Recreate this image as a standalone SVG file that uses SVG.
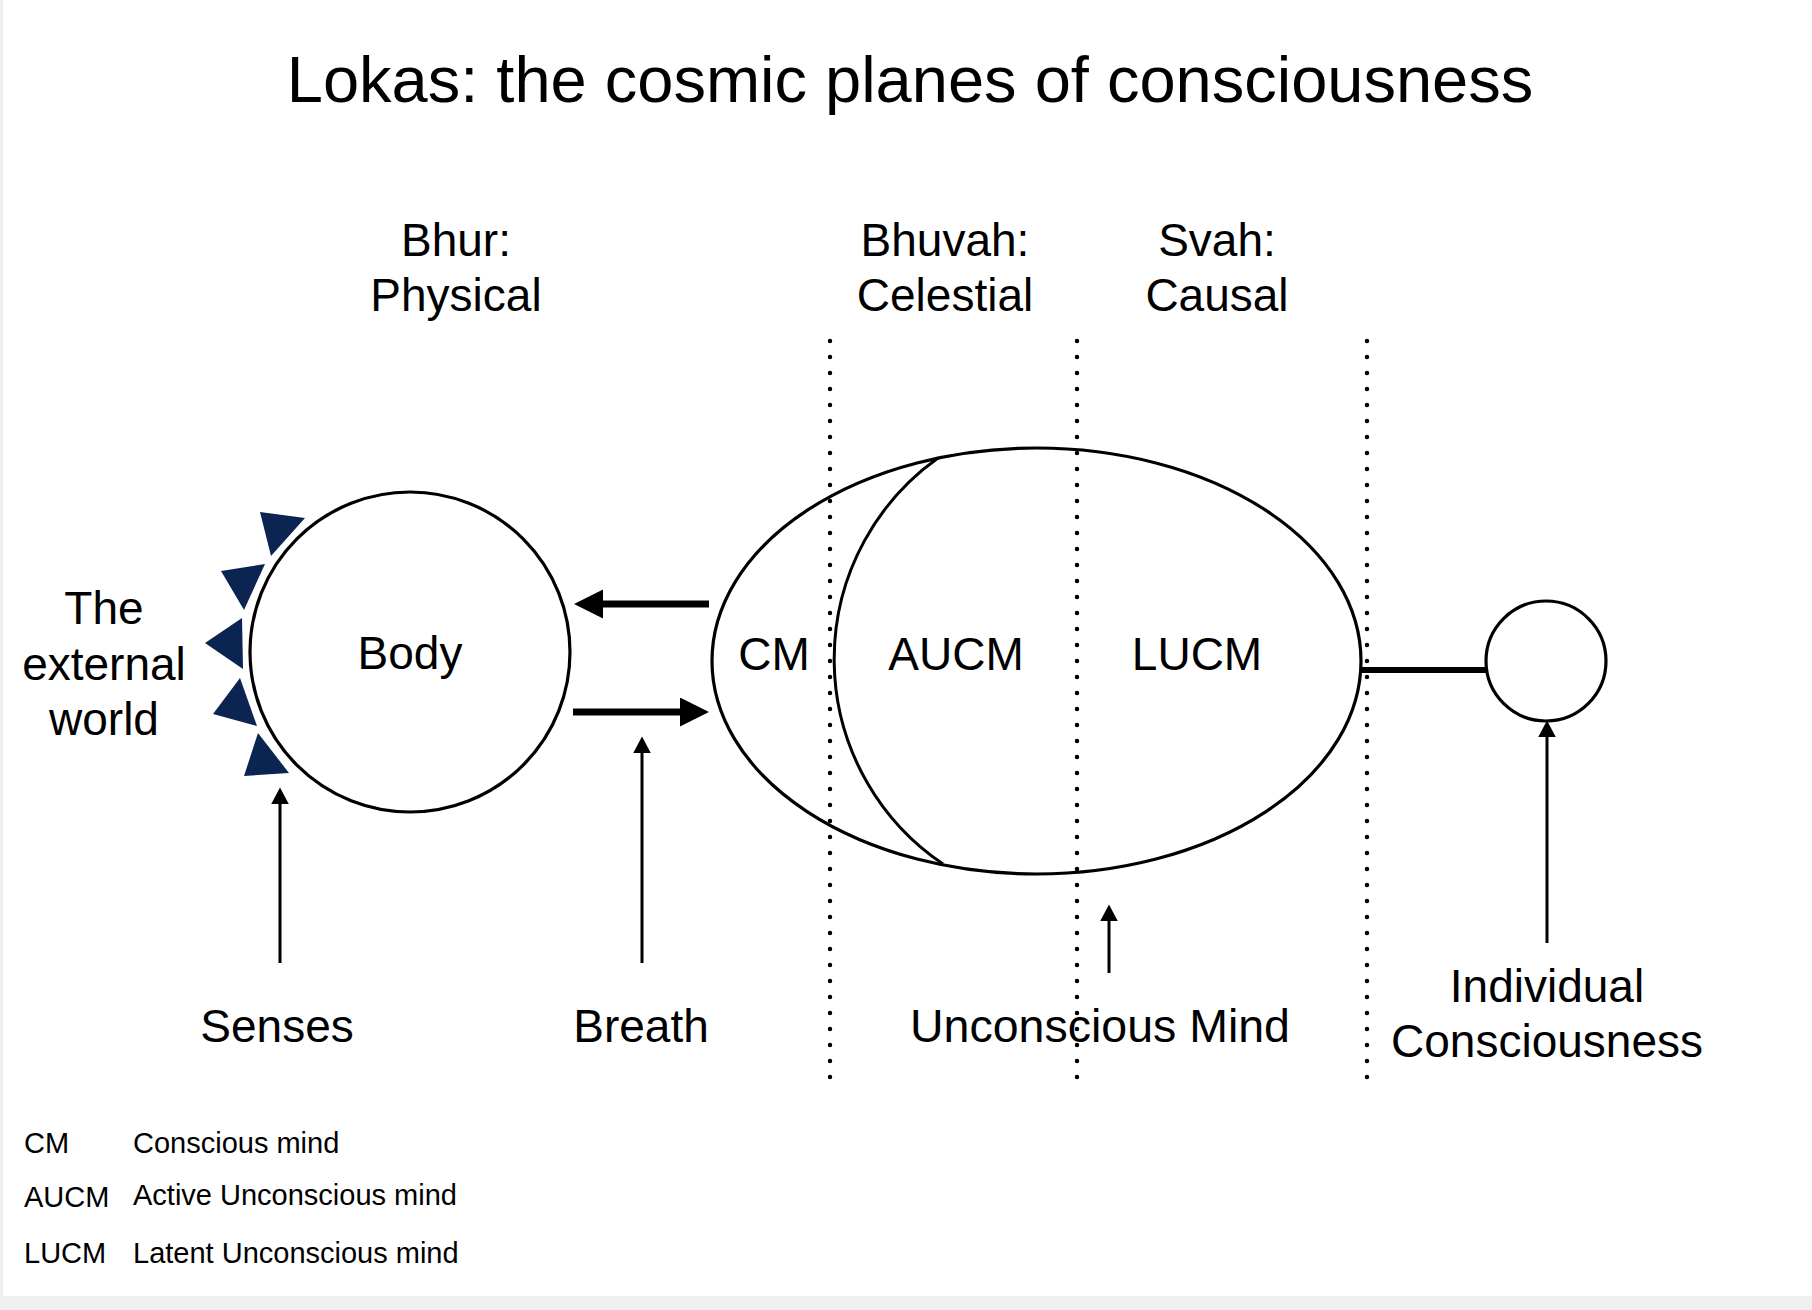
<svg xmlns="http://www.w3.org/2000/svg" width="1812" height="1310" viewBox="0 0 1812 1310">
  <style>
    text { font-family: "Liberation Sans", Arial, Helvetica, sans-serif; fill: #000; }
    .big { font-size: 46px; text-anchor: middle; }
    .title { font-size: 65px; text-anchor: middle; }
    .legend { font-size: 29px; }
    .outline { fill: #fff; stroke: #000; stroke-width: 3.2; }
    .thin { stroke: #000; stroke-width: 3; fill: none; }
    .thick { stroke: #000; stroke-width: 7; fill: none; }
    .dots { stroke: #000; stroke-width: 4.5; stroke-linecap: round; stroke-dasharray: 0 16; fill: none; }
    .ray { fill: #0c2452; }
  </style>
  <defs>
    <marker id="headThin" markerUnits="userSpaceOnUse" markerWidth="17" markerHeight="18" refX="0" refY="8.75" orient="auto">
      <path d="M0,0 L16.5,8.75 L0,17.5 z" fill="#000"/>
    </marker>
    <marker id="headThick" markerUnits="userSpaceOnUse" markerWidth="30" markerHeight="30" refX="0" refY="14.5" orient="auto">
      <path d="M0,0 L29,14.5 L0,29 z" fill="#000"/>
    </marker>
  </defs>

  <rect x="0" y="0" width="1812" height="1310" fill="#efefef"/>
  <rect x="3" y="0" width="1809" height="1296" fill="#fff"/>

  <g id="title">
    <text class="title" x="910" y="102">Lokas: the cosmic planes of consciousness</text>
  </g>

  <g id="plane-labels">
    <text class="big" x="456" y="256">Bhur:</text>
    <text class="big" x="456" y="311">Physical</text>
    <text class="big" x="945" y="256">Bhuvah:</text>
    <text class="big" x="945" y="311">Celestial</text>
    <text class="big" x="1217" y="256">Svah:</text>
    <text class="big" x="1217" y="311">Causal</text>
  </g>

  <g id="external-world">
    <text class="big" x="104" y="624">The</text>
    <text class="big" x="104" y="680">external</text>
    <text class="big" x="104" y="735">world</text>
    <polygon class="ray" points="260,512 305,518 271,556"/>
    <polygon class="ray" points="221,571 265,564 244,610"/>
    <polygon class="ray" points="205,643 242,618 243,669"/>
    <polygon class="ray" points="213,714 240,678 257,726"/>
    <polygon class="ray" points="244,776 258,733 289,773"/>
  </g>

  <g id="body">
    <circle class="outline" cx="410" cy="652" r="160"/>
    <text class="big" x="410" y="669">Body</text>
  </g>

  <g id="mind">
    <ellipse class="outline" cx="1036.5" cy="661" rx="324.5" ry="213"/>
    <path class="thin" d="M938,458 A247,247 0 0 0 943,864"/>
    <text class="big" x="774" y="670">CM</text>
    <text class="big" x="956" y="670">AUCM</text>
    <text class="big" x="1197" y="670">LUCM</text>
  </g>

  <g id="individual-consciousness">
    <circle class="outline" cx="1546" cy="661" r="60"/>
  </g>

  <g id="dividers">
    <line class="dots" x1="830" y1="341" x2="830" y2="1078"/>
    <line class="dots" x1="1077" y1="341" x2="1077" y2="1078"/>
    <line class="dots" x1="1367" y1="341" x2="1367" y2="1078"/>
  </g>

  <g id="connectors">
    <line class="thick" x1="709" y1="604" x2="603" y2="604" marker-end="url(#headThick)"/>
    <line class="thick" x1="573" y1="712" x2="680" y2="712" marker-end="url(#headThick)"/>
    <line class="thick" x1="1362" y1="670" x2="1486" y2="670" style="stroke-width:6"/>
    <line class="thin" x1="280" y1="963" x2="280" y2="804" marker-end="url(#headThin)"/>
    <line class="thin" x1="642" y1="963" x2="642" y2="753" marker-end="url(#headThin)"/>
    <line class="thin" x1="1109" y1="973" x2="1109" y2="921" marker-end="url(#headThin)"/>
    <line class="thin" x1="1547" y1="943" x2="1547" y2="737" marker-end="url(#headThin)"/>
  </g>

  <g id="bottom-labels">
    <text class="big" x="277" y="1042">Senses</text>
    <text class="big" x="641" y="1042">Breath</text>
    <text class="big" x="1100" y="1042" style="font-size:46.5px">Unconscious Mind</text>
    <text class="big" x="1547" y="1002">Individual</text>
    <text class="big" x="1547" y="1057">Consciousness</text>
  </g>

  <g id="legend">
    <text class="legend" x="24" y="1153">CM</text>
    <text class="legend" x="133" y="1153">Conscious mind</text>
    <text class="legend" x="24" y="1207">AUCM</text>
    <text class="legend" x="133" y="1205">Active Unconscious mind</text>
    <text class="legend" x="24" y="1263">LUCM</text>
    <text class="legend" x="133" y="1263">Latent Unconscious mind</text>
  </g>
</svg>
